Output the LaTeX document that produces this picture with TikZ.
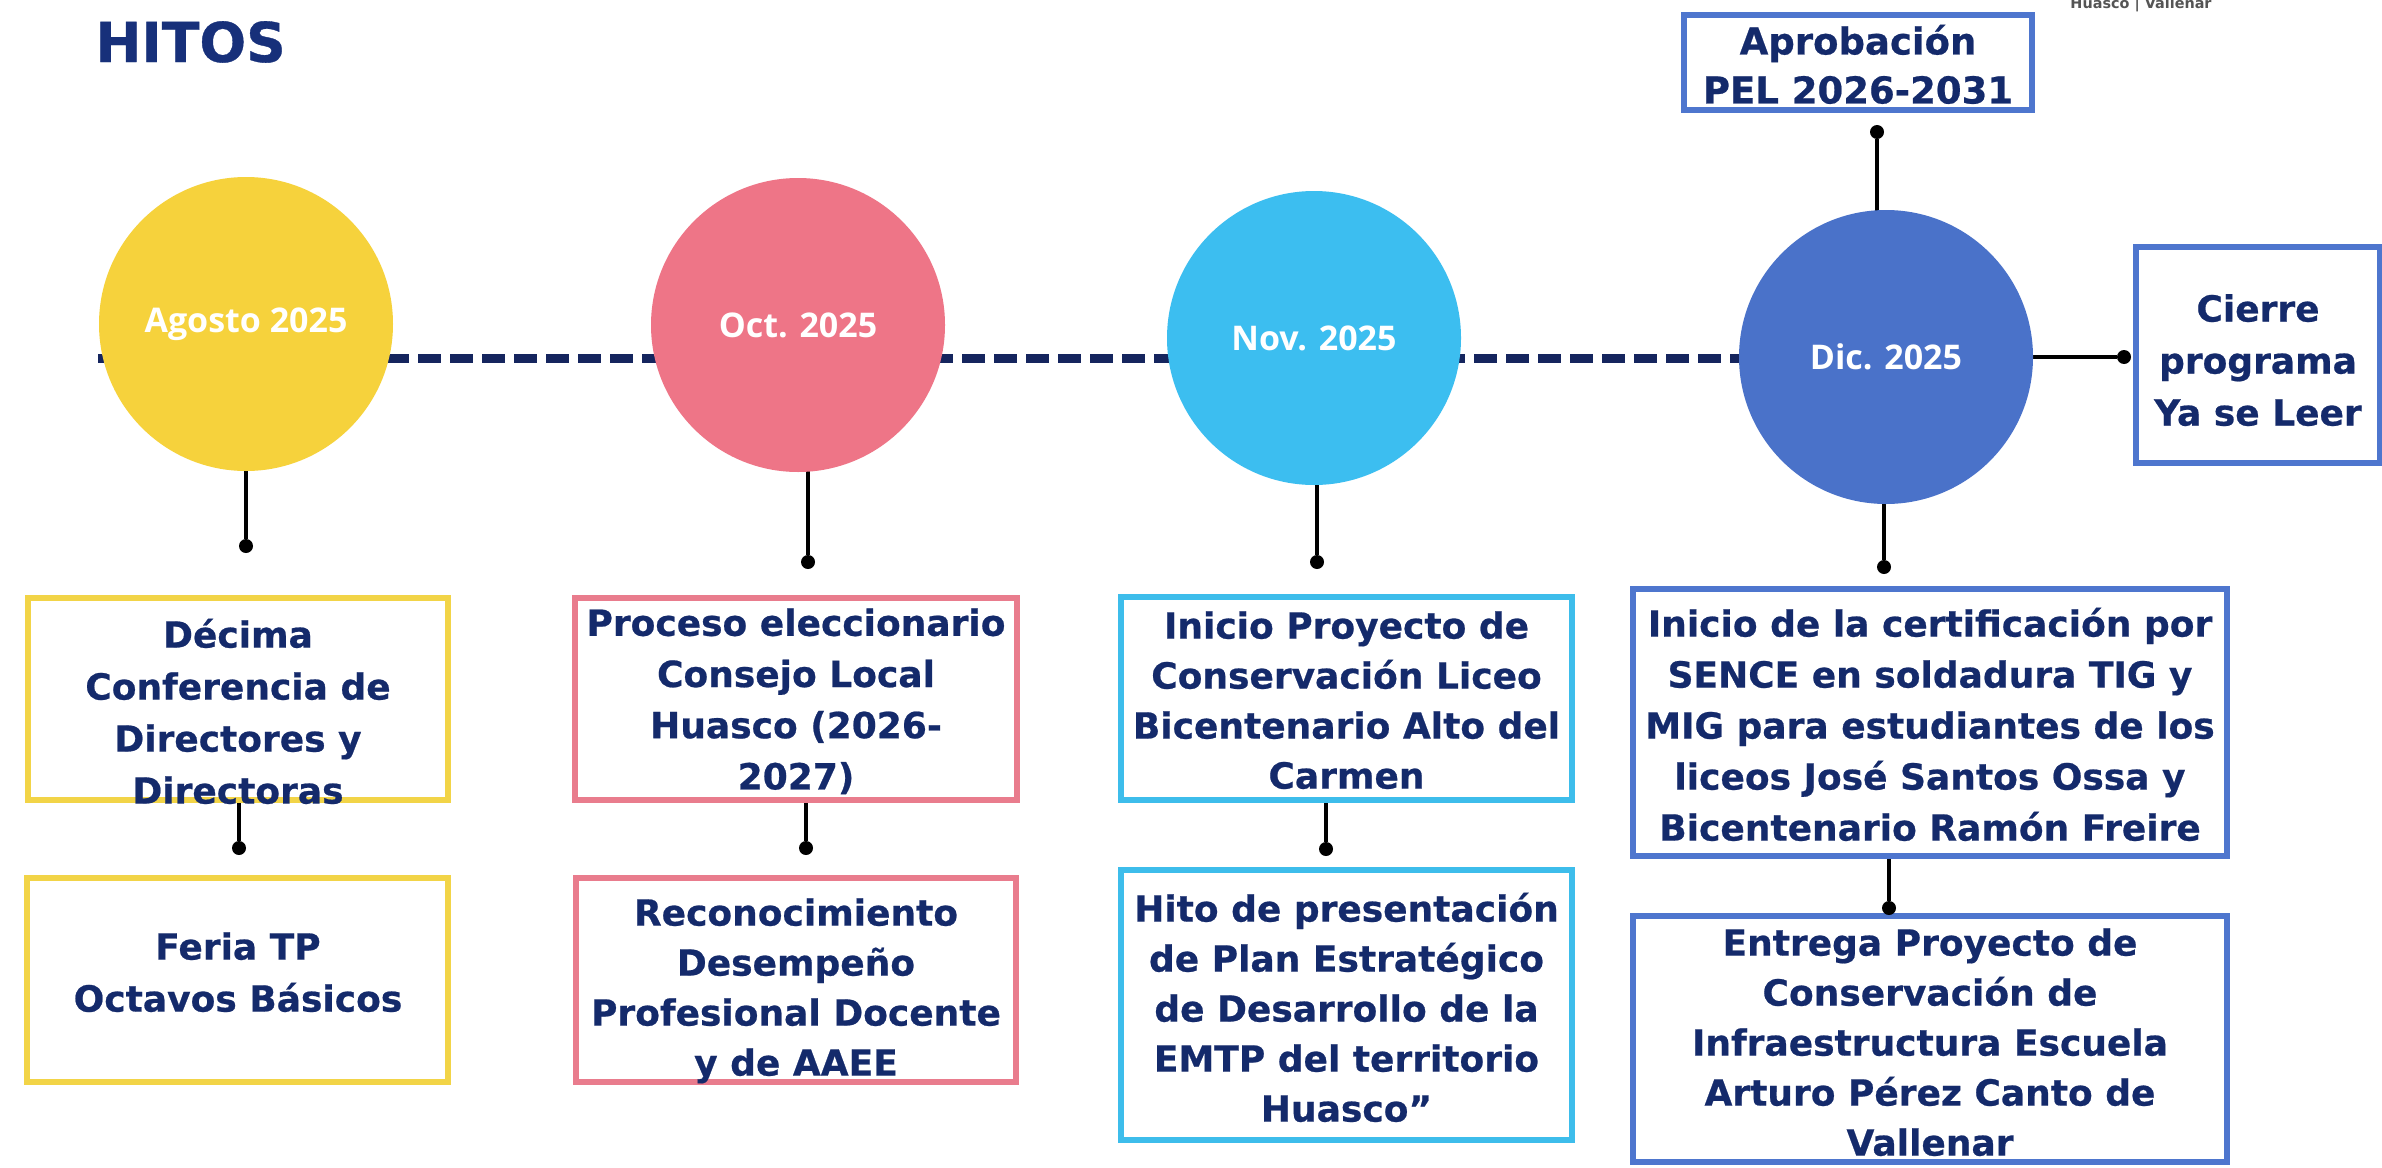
\documentclass[tikz,border=0pt]{standalone}
\usepackage{fontspec}
\setmainfont{DejaVu Sans}[BoldFeatures={FakeBold=0.6}]
\newfontfamily\osans{Open Sans}
\newfontfamily\logofont{DejaVu Sans}
\usetikzlibrary{backgrounds}
\definecolor{navy}{HTML}{142A6B}
\definecolor{titlenavy}{HTML}{17307A}
\definecolor{dashnavy}{HTML}{15255E}
\definecolor{cyel}{HTML}{F6D23C}
\definecolor{cpink}{HTML}{EE7587}
\definecolor{clb}{HTML}{3CBEF0}
\definecolor{cblue}{HTML}{4A72C9}
\definecolor{byel}{HTML}{F2D447}
\definecolor{bpink}{HTML}{E97C8D}
\definecolor{blb}{HTML}{3DBDEB}
\definecolor{bblue}{HTML}{4E76CE}
\definecolor{logogray}{HTML}{555555}
\newcommand\topstr{\rule{0pt}{0.96em}}
\newcommand\botstr{\rule[-0.26em]{0pt}{0pt}}
\begin{document}
\begin{tikzpicture}[x=0.5pt,y=-0.5pt,
  circ/.style={circle,inner sep=0pt,minimum size=147pt,text=white,font=\osans\bfseries\fontsize{17}{20}\selectfont},
  hbox/.style={draw,rectangle,line width=3.2pt,inner sep=0pt},
  btext/.style={align=center,text=navy,inner sep=0pt,font=\bfseries\fontsize{18}{25}\selectfont},
  dotn/.style={circle,fill=black,inner sep=0pt,minimum size=7pt},
  stem/.style={line width=2pt,black},
  tline/.style={line width=4.5pt,dashnavy,dash pattern=on 11.5pt off 4.5pt}]
\useasboundingbox (0,0) rectangle (2382,1167);

% title and logo text
\node[anchor=base west,inner sep=0pt,text=titlenavy,font=\bfseries\fontsize{27.5}{30}\selectfont] (title) at (95,62) {HITOS};
\node[anchor=base,inner sep=0pt,text=logogray,font=\logofont\bfseries\fontsize{7.2}{8}\selectfont] (logo) at (2141,9) {Huasco | Vallenar};

% circles
\node[circ,fill=cyel] (c1) at (246,324) {Agosto 2025};
\node[circ,fill=cpink] (c2) at (798,325) {Oct. 2025};
\node[circ,fill=clb] (c3) at (1314,338) {Nov. 2025};
\node[circ,fill=cblue] (c4) at (1886,357) {Dic. 2025};

% boxes
\node[hbox,draw=byel,minimum width=210pt,minimum height=101pt] (b1) at (238,699) {};
\node[hbox,draw=byel,minimum width=210.5pt,minimum height=102pt] (b2) at (237.5,980) {};
\node[hbox,draw=bpink,minimum width=221pt,minimum height=101pt] (b3) at (796,699) {};
\node[hbox,draw=bpink,minimum width=220pt,minimum height=102pt] (b4) at (796,980) {};
\node[hbox,draw=blb,minimum width=225.5pt,minimum height=101.5pt] (b5) at (1346.5,698.5) {};
\node[hbox,draw=blb,minimum width=225.5pt,minimum height=135pt] (b6) at (1346.5,1005) {};
\node[hbox,draw=bblue,minimum width=297pt,minimum height=133.5pt] (b7) at (1930,722.5) {};
\node[hbox,draw=bblue,minimum width=297pt,minimum height=123pt] (b8) at (1930,1039) {};
\node[hbox,draw=bblue,minimum width=174pt,minimum height=47.5pt] (b9) at (1858,62.5) {};
\node[hbox,draw=bblue,minimum width=122pt,minimum height=108pt] (b10) at (2258,355) {};

% box texts
\node[btext,font=\bfseries\fontsize{18}{26}\selectfont] (t1) at (238,713) {\topstr Décima\\Conferencia de\\Directores y\\Directoras\botstr};
\node[btext,font=\bfseries\fontsize{18}{26}\selectfont] (t2) at (238,973) {\topstr Feria TP\\Octavos Básicos\botstr};
\node[btext,font=\bfseries\fontsize{18}{25.6}\selectfont] (t3) at (796,700) {\topstr Proceso eleccionario\\Consejo Local\\Huasco (2026-\\2027)\botstr};
\node[btext] (t4) at (796,988) {\topstr Reconocimiento\\Desempeño\\Profesional Docente\\y de AAEE\botstr};
\node[btext] (t5) at (1346.5,701) {\topstr Inicio Proyecto de\\Conservación Liceo\\Bicentenario Alto del\\Carmen\botstr};
\node[btext] (t6) at (1346.5,1009) {\topstr Hito de presentación\\de Plan Estratégico\\de Desarrollo de la\\EMTP del territorio\\Huasco”\botstr};
\node[btext,font=\bfseries\fontsize{18}{25.5}\selectfont] (t7) at (1930,726) {\topstr Inicio de la certificación por\\SENCE en soldadura TIG y\\MIG para estudiantes de los\\liceos José Santos Ossa y\\Bicentenario Ramón Freire\botstr};
\node[btext] (t8) at (1930,1043) {\topstr Entrega Proyecto de\\Conservación de\\Infraestructura Escuela\\Arturo Pérez Canto de\\Vallenar\botstr};
\node[btext,font=\bfseries\fontsize{18.5}{24.5}\selectfont] (t9) at (1858,66) {\topstr Aprobación\\PEL 2026-2031\botstr};
\node[btext,font=\bfseries\fontsize{18}{26}\selectfont] (t10) at (2258,361) {\topstr Cierre\\programa\\Ya se Leer\botstr};

% dots
\node[dotn] (d1) at (246,546) {};
\node[dotn] (d2) at (808,562) {};
\node[dotn] (d3) at (1317,562) {};
\node[dotn] (d4) at (1884,567) {};
\node[dotn] (d5) at (1877,132) {};
\node[dotn] (d6) at (2124,357) {};
\node[dotn] (d7) at (239,848) {};
\node[dotn] (d8) at (806,848) {};
\node[dotn] (d9) at (1326,849) {};
\node[dotn] (d10) at (1889,908) {};
\coordinate (tl0) at (98,358);

\begin{scope}[on background layer]
\fill[white] (0,0) rectangle (2382,1167);
\draw[tline] (tl0) -- (tl0 -| c4.center);
\draw[stem] (d1) -- (d1 |- c1.center);
\draw[stem] (d2) -- (d2 |- c2.center);
\draw[stem] (d3) -- (d3 |- c3.center);
\draw[stem] (d4) -- (d4 |- c4.center);
\draw[stem] (d5) -- (d5 |- c4.center);
\draw[stem] (d6) -- (d6 -| c4.center);
\draw[stem] (d7) -- (d7 |- b1.south);
\draw[stem] (d8) -- (d8 |- b3.south);
\draw[stem] (d9) -- (d9 |- b5.south);
\draw[stem] (d10) -- (d10 |- b7.south);
\end{scope}
\end{tikzpicture}
\end{document}
